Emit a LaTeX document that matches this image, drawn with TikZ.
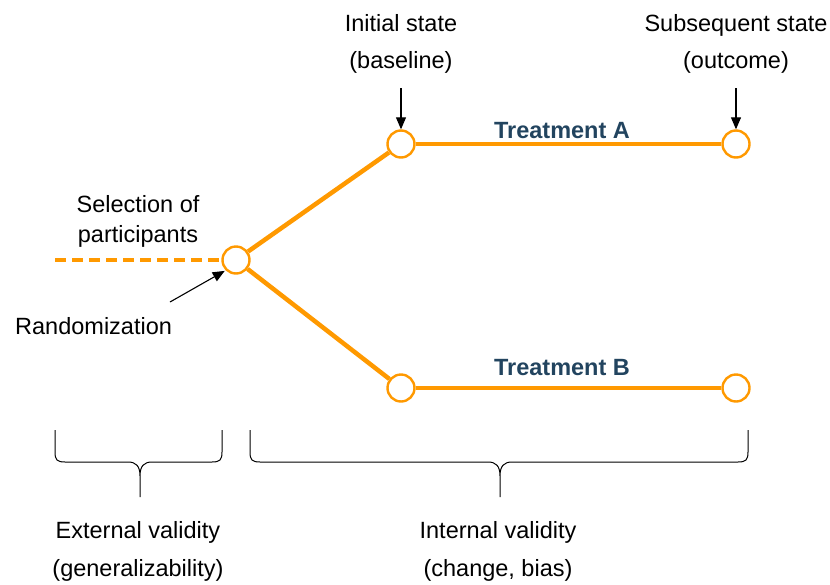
\documentclass[tikz,border=0pt]{standalone}
\usepackage{fontspec}
\setmainfont{Liberation Sans}
\usetikzlibrary{arrows.meta}
\definecolor{orng}{HTML}{FF9900}
\definecolor{tblue}{HTML}{22445F}
\begin{document}
\begin{tikzpicture}[x=1pt,y=-1pt,
  stage/.style={circle,draw=orng,line width=2.4pt,fill=white,minimum size=27pt,inner sep=0pt},
  trline/.style={draw=orng,line width=4.5pt},
  lbl/.style={font=\fontsize{23.5}{27}\selectfont,anchor=base,inner sep=0pt},
  tlbl/.style={font=\fontsize{23.5}{27}\selectfont\bfseries,text=tblue,anchor=base,inner sep=0pt},
  pointer/.style={draw=black,line width=1.1pt,-{Triangle[length=12pt,width=10pt]}},
  bracepath/.style={draw=black,line width=1pt}]
\useasboundingbox (0,0) rectangle (830,584);
% stages
\node[stage] (r) at (236,260) {};
\node[stage] (a0) at (401,144) {};
\node[stage] (a1) at (736,144) {};
\node[stage] (b0) at (401,388) {};
\node[stage] (b1) at (736,388) {};
\coordinate (s) at (55,260);
% lines
\draw[trline,dash pattern=on 11pt off 6pt] (s) -- (r);
\draw[trline] (r) -- (a0);
\draw[trline] (r) -- (b0);
\draw[trline] (a0) -- (a1);
\draw[trline] (b0) -- (b1);
% labels
\node[lbl] (is1) at (401,31) {Initial state};
\node[lbl] (is2) at (401,68) {(baseline)};
\node[lbl] (ss1) at (736,31) {Subsequent state};
\node[lbl] (ss2) at (736,68) {(outcome)};
\node[tlbl] (ta) at (562,138) {Treatment A};
\node[tlbl] (tb) at (562,375) {Treatment B};
\node[lbl] (sel1) at (138,212) {Selection of};
\node[lbl] (sel2) at (138,242) {participants};
\node[lbl,anchor=base west] (rand) at (15,334) {Randomization};
\node[lbl] (ev1) at (138,538) {External validity};
\node[lbl] (ev2) at (138,576) {(generalizability)};
\node[lbl] (iv1) at (498,538) {Internal validity};
\node[lbl] (iv2) at (498,576) {(change, bias)};
% pointers
\coordinate (pa) at (401,88);
\coordinate (pb) at (736,88);
\coordinate (pr) at (170,302);
\draw[pointer] (pa) -- (a0.north);
\draw[pointer] (pb) -- (a1.north);
\draw[pointer,shorten >=1pt] (pr) -- (r.south west);
% braces
\coordinate (lb1) at (55,430);
\coordinate (lb2) at (222,430);
\coordinate (lbt) at (140,497);
\draw[bracepath] (lb1) -- (55,452) .. controls (55,460) and (57,462) .. (65,462)
  -- (128,462) .. controls (136,462) and (140,466) .. (140,476) -- (lbt)
  (lb2) -- (222,452) .. controls (222,460) and (220,462) .. (212,462)
  -- (152,462) .. controls (144,462) and (140,466) .. (140,476);
\coordinate (rb1) at (250,430);
\coordinate (rb2) at (748,430);
\coordinate (rbt) at (500,497);
\draw[bracepath] (rb1) -- (250,452) .. controls (250,460) and (252,462) .. (260,462)
  -- (488,462) .. controls (496,462) and (500,466) .. (500,476) -- (rbt)
  (rb2) -- (748,452) .. controls (748,460) and (746,462) .. (738,462)
  -- (512,462) .. controls (504,462) and (500,466) .. (500,476);
\end{tikzpicture}
\end{document}
